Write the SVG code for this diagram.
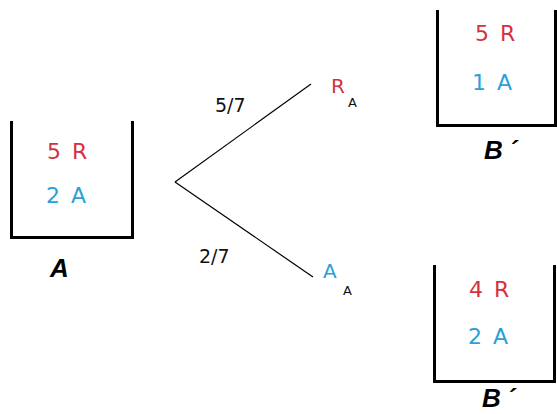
<svg xmlns="http://www.w3.org/2000/svg" width="557" height="414" viewBox="0 0 557 414">
<style>
.box{fill:none;stroke:#000;stroke-width:3}
.t{font-family:"DejaVu Sans",Verdana,sans-serif;font-size:22px;letter-spacing:2px}
.r{fill:#d2323f}
.b{fill:#2b9fd9}
.m{font-family:"DejaVu Sans",Verdana,sans-serif;font-size:20px}
.lbl{font-family:"DejaVu Sans",Verdana,sans-serif;font-size:19px;fill:#111}
.sub{font-family:"DejaVu Sans",Verdana,sans-serif;font-size:13px;fill:#111}
.name{font-family:"Liberation Sans",Arial,sans-serif;font-size:26px;font-weight:bold;font-style:italic;fill:#000}
.ln{stroke:#000;stroke-width:1.2;fill:none}
</style>
<rect width="557" height="414" fill="#fff"/>
<g id="urnA">
<path class="box" d="M11.5 121V237.5H132.5V121"/>
<text class="t r" x="47" y="159">5 R</text>
<text class="t b" x="46" y="203">2 A</text>
<text class="name" x="50" y="277">A</text>
</g>
<g id="connectors">
<line class="ln" x1="175" y1="182" x2="311" y2="84"/>
<line class="ln" x1="175" y1="182" x2="313" y2="277"/>
</g>
<g id="labels">
<text class="lbl" x="215" y="112">5/7</text>
<text class="lbl" x="199" y="263">2/7</text>
</g>
<g id="RA">
<text class="m r" x="331" y="93">R</text>
<text class="sub" x="348" y="107">A</text>
</g>
<g id="AA">
<text class="m b" x="323" y="278">A</text>
<text class="sub" x="343" y="295">A</text>
</g>
<g id="urnB1">
<path class="box" d="M437.5 10V125.5H555.5V10"/>
<text class="t r" x="475" y="41">5 R</text>
<text class="t b" x="472" y="90">1 A</text>
<text class="name" x="484" y="159">B<tspan dx="6">´</tspan></text>
</g>
<g id="urnB2">
<path class="box" d="M434.5 265V381.5H554.5V265"/>
<text class="t r" x="469" y="297">4 R</text>
<text class="t b" x="468" y="344">2 A</text>
<text class="name" x="482" y="407">B<tspan dx="6">´</tspan></text>
</g>
</svg>
